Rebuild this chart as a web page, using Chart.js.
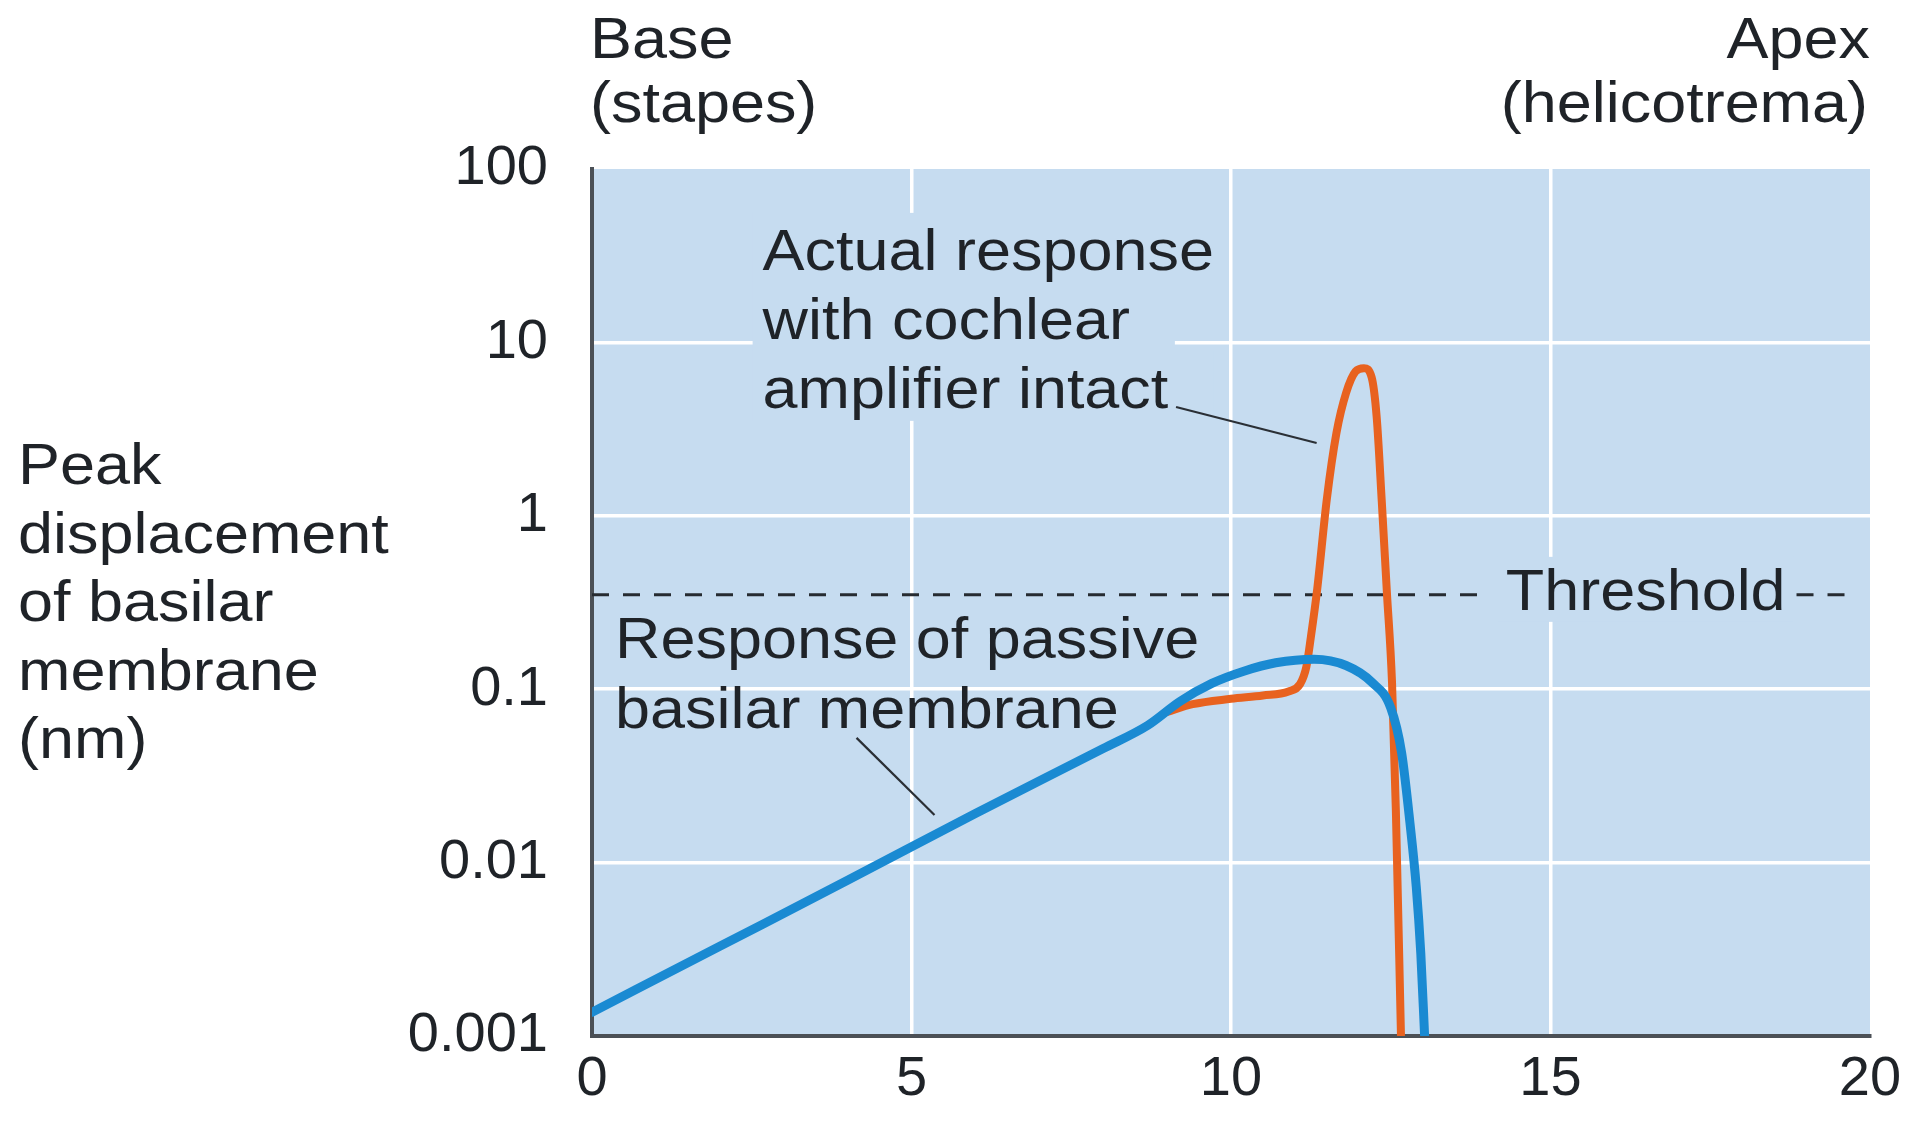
<!DOCTYPE html>
<html><head><meta charset="utf-8">
<script src="https://cdn.jsdelivr.net/npm/chart.js@4.4.1/dist/chart.umd.min.js"></script>
<style>html,body{margin:0;padding:0;background:#fff;overflow:hidden}#wrap{width:1906px;height:1122px;position:relative}</style>
</head><body><div id="wrap"><canvas id="c" width="1906" height="1122"></canvas></div>
<script>
// ---- data ----
const xTickValues = [0, 5, 10, 15, 20];
const xTickLabels = ['0', '5', '10', '15', '20'];
const yTickValues = [0.001, 0.01, 0.1, 1, 10, 100];
const yTickLabels = ['0.001', '0.01', '0.1', '1', '10', '100'];

const passiveX = [0, 2, 4, 6, 8, 8.7, 9.2, 9.7, 10.2, 10.7, 11.3, 11.8, 12.2, 12.5, 12.67, 12.8, 12.9, 12.97, 13.03];
const passiveY = [0.00137, 0.00329, 0.0079, 0.0192, 0.0455, 0.062, 0.085, 0.108, 0.127, 0.142, 0.149, 0.137, 0.110, 0.078, 0.043, 0.017, 0.0072, 0.003, 0.001];

const actualX = [9.0, 9.4, 10.0, 10.5, 10.9, 11.08, 11.18, 11.25, 11.35, 11.5, 11.65, 11.8, 11.95, 12.08, 12.2, 12.28, 12.36, 12.44, 12.52, 12.58, 12.66];
const actualY = [0.074, 0.082, 0.088, 0.092, 0.097, 0.107, 0.135, 0.2, 0.38, 1.25, 3.0, 5.1, 6.8, 7.1, 6.3, 3.7, 1.2, 0.36, 0.109, 0.02, 0.001];

const thresholdValue = 0.35;
const thresholdSegX = [0, 13.9, null, 18.85, 19.8];

const leaderActualX = [9.14, 11.34];
const leaderActualY = [4.24, 2.63];
const leaderPassiveX = [4.14, 5.36];
const leaderPassiveY = [0.0524, 0.0188];

const annotActual = ['Actual response', 'with cochlear', 'amplifier intact'];
const annotPassive = ['Response of passive', 'basilar membrane'];
const yTitleLines = ['Peak', 'displacement', 'of basilar', 'membrane', '(nm)'];

// ---- styling ----
const FONT = '"Liberation Sans", Arial, Helvetica, sans-serif';
const TXT = '#1f2328';
const SX = 1.085;
const BG = '#c6dcf0';

function pts(xs, ys) { return xs.map((x, i) => ({ x: x, y: ys[i] })); }

function drawStretched(ctx, text, x, y, align) {
  ctx.save();
  ctx.font = '58px ' + FONT;
  ctx.fillStyle = TXT;
  ctx.textBaseline = 'alphabetic';
  ctx.translate(x, y);
  ctx.scale(SX, 1);
  ctx.textAlign = align;
  ctx.fillText(text, 0, 0);
  ctx.restore();
}
function textW(ctx, text) { ctx.save(); ctx.font = '58px ' + FONT; const w = ctx.measureText(text).width * SX; ctx.restore(); return w; }

const annotPlugin = {
  id: 'annot',
  beforeDraw(chart) {
    const { ctx, chartArea: a } = chart;
    ctx.save();
    ctx.fillStyle = BG;
    ctx.fillRect(a.left, a.top, a.right - a.left, a.bottom - a.top);
    ctx.restore();
  },
  beforeDatasetsDraw(chart) {
    const { ctx } = chart;
    const xs = chart.scales.x, ys = chart.scales.y;
    ctx.save();
    ctx.fillStyle = BG;
    const ax = xs.getPixelForValue(2.67), ay = ys.getPixelForValue(26.2);
    const limit = xs.getPixelForValue(10) - 3;
    annotActual.forEach((t, i) => {
      const b = ay + i * 69;
      const r = Math.min(ax + textW(ctx, t) + 45, limit);
      ctx.fillRect(ax - 10, b - 57, r - (ax - 10), 70);
    });
    const tx = xs.getPixelForValue(14.3), tb = ys.getPixelForValue(thresholdValue) + 15;
    ctx.fillRect(tx - 8, tb - 53, textW(ctx, 'Threshold') + 16, 65);
    ctx.restore();
  },
  afterDatasetsDraw(chart) {
    const { ctx } = chart;
    const xs = chart.scales.x, ys = chart.scales.y;
    const ax = xs.getPixelForValue(2.67), ay = ys.getPixelForValue(26.2);
    annotActual.forEach((t, i) => drawStretched(ctx, t, ax, ay + i * 69, 'left'));
    const px = xs.getPixelForValue(0.36), py = ys.getPixelForValue(0.151);
    annotPassive.forEach((t, i) => drawStretched(ctx, t, px, py + i * 70, 'left'));
    drawStretched(ctx, 'Threshold', xs.getPixelForValue(14.3), ys.getPixelForValue(thresholdValue) + 15, 'left');
  },
  afterDraw(chart) {
    const { ctx, chartArea: a } = chart;
    drawStretched(ctx, 'Base', a.left - 2, 58, 'left');
    drawStretched(ctx, '(stapes)', a.left - 2, 122, 'left');
    drawStretched(ctx, 'Apex', a.right, 58, 'right');
    drawStretched(ctx, '(helicotrema)', a.right - 2, 122, 'right');
    yTitleLines.forEach((t, i) => drawStretched(ctx, t, 18, 484 + i * 68.5, 'left'));
  }
};

const gridColor = (lo, hi) => (c) => (c.tick && c.tick.value > lo && c.tick.value < hi) ? '#ffffff' : 'rgba(0,0,0,0)';

new Chart(document.getElementById('c'), {
  type: 'line',
  data: {
    datasets: [
      { label: 'Response of passive basilar membrane', data: pts(passiveX, passiveY), borderColor: '#1a8ad2', borderWidth: 9, pointRadius: 0, cubicInterpolationMode: 'monotone', fill: false, borderCapStyle: 'round', borderJoinStyle: 'round' },
      { label: 'Actual response with cochlear amplifier intact', data: pts(actualX, actualY), borderColor: '#e8621f', borderWidth: 8, pointRadius: 0, cubicInterpolationMode: 'monotone', fill: false, borderCapStyle: 'round', borderJoinStyle: 'round' },
      { label: 'Threshold', data: thresholdSegX.map(x => ({ x: x === null ? 16 : x, y: x === null ? null : thresholdValue })), borderColor: '#262b31', borderWidth: 3, borderDash: [17, 14], pointRadius: 0, spanGaps: false, tension: 0 },
      { label: 'leader1', data: pts(leaderActualX, leaderActualY), borderColor: '#2a2f35', borderWidth: 2.2, pointRadius: 0, tension: 0 },
      { label: 'leader2', data: pts(leaderPassiveX, leaderPassiveY), borderColor: '#2a2f35', borderWidth: 2.2, pointRadius: 0, tension: 0 }
    ]
  },
  options: {
    responsive: false,
    devicePixelRatio: 1,
    animation: false,
    layout: { padding: { left: 0, top: 169, right: 36, bottom: 0 } },
    plugins: { legend: { display: false }, tooltip: { enabled: false } },
    scales: {
      x: {
        type: 'linear', min: 0, max: 20,
        afterBuildTicks: (s) => { s.ticks = xTickValues.map(v => ({ value: v })); },
        afterFit: (s) => { s.height = 86; s.paddingLeft = 0; s.paddingRight = 0; },
        ticks: { callback: (v) => xTickLabels[xTickValues.indexOf(v)], font: { size: 56, family: FONT }, color: TXT, padding: 10, maxRotation: 0, autoSkip: false },
        grid: { color: gridColor(0, 20), lineWidth: 3.5, drawTicks: false },
        border: { color: '#4b5056', width: 4 }
      },
      y: {
        type: 'logarithmic', min: 0.001, max: 100,
        afterBuildTicks: (s) => { s.ticks = yTickValues.map(v => ({ value: v })); },
        afterFit: (s) => { s.width = 592; s.paddingTop = 0; s.paddingBottom = 0; },
        ticks: { callback: (v) => yTickLabels[yTickValues.indexOf(v)], font: { size: 56, family: FONT }, color: TXT, padding: 44, autoSkip: false },
        grid: { color: gridColor(0.001, 100), lineWidth: 3.5, drawTicks: false },
        border: { color: '#4b5056', width: 4 }
      }
    }
  },
  plugins: [annotPlugin]
});
</script></body></html>
